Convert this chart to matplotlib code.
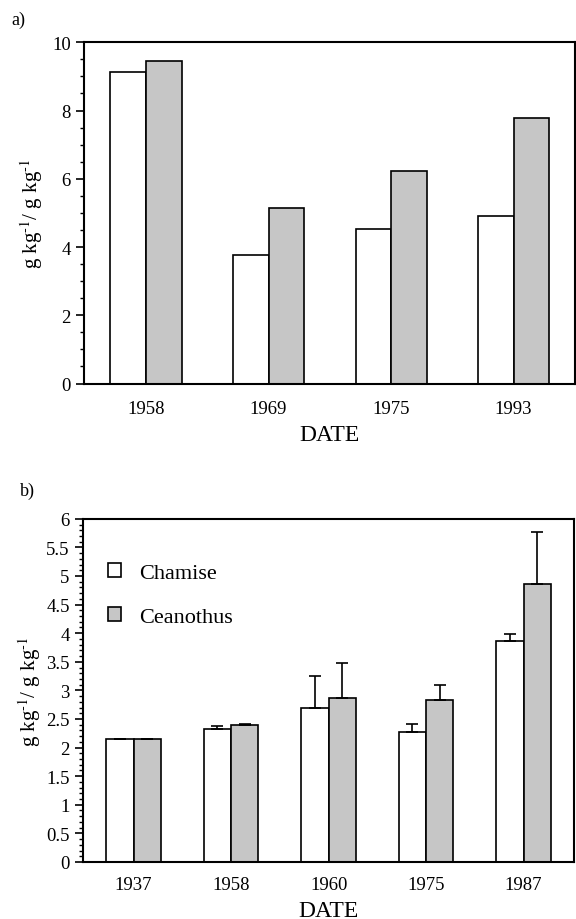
import numpy as np
import matplotlib
matplotlib.use("Agg")
import matplotlib.pyplot as plt

plt.rcParams['font.family'] = ['Liberation Serif', 'DejaVu Serif']
plt.rcParams['mathtext.fontset'] = 'stix'

# panel a
dates_a = ["1958", "1969", "1975", "1993"]
chamise_a = [9.13, 3.76, 4.53, 4.90]
ceanothus_a = [9.44, 5.15, 6.24, 7.79]

# panel b
dates_b = ["1937", "1958", "1960", "1975", "1987"]
chamise_b = [2.15, 2.32, 2.70, 2.28, 3.86]
ceanothus_b = [2.15, 2.39, 2.87, 2.84, 4.86]
chamise_err = [0.0, 0.05, 0.56, 0.14, 0.12]
ceanothus_err = [0.0, 0.02, 0.61, 0.25, 0.91]

gray = '#c6c6c6'
ylab = r'g kg$^{\text{-}1}$/ g kg$^{\text{-}1}$'

fig = plt.figure(figsize=(5.76, 9.2), dpi=100)
ax1 = fig.add_axes([0.146, 0.582, 0.852, 0.371])
ax2 = fig.add_axes([0.144, 0.062, 0.853, 0.373])


def style(ax, pad):
    for s in ax.spines.values():
        s.set_linewidth(1.5)
    ax.tick_params(axis='x', length=0, labelsize=13.5, pad=pad)
    ax.tick_params(axis='y', which='major', direction='out', length=6, width=1.2, labelsize=13.5)
    ax.tick_params(axis='y', which='minor', direction='out', length=3, width=1.0)


# ---- a)
x = np.arange(len(dates_a))
w = 0.29
ax1.bar(x - w / 2, chamise_a, w, color='white', edgecolor='black', linewidth=1.2)
ax1.bar(x + w / 2, ceanothus_a, w, color=gray, edgecolor='black', linewidth=1.2)
ax1.set_xlim(-0.505, 3.5)
ax1.set_ylim(0, 10)
ax1.set_yticks([0, 2, 4, 6, 8, 10])
ax1.set_yticks(np.arange(0, 10.01, 0.5), minor=True)
ax1.set_xticks(x)
ax1.set_xticklabels(dates_a)
ax1.set_xlabel("DATE", fontsize=17, labelpad=5)
ax1.set_ylabel(ylab, fontsize=15, labelpad=5)
style(ax1, 12)
fig.text(0.02, 0.978, "a)", fontsize=13, va='center')

# ---- b)
x = np.arange(len(dates_b))
w = 0.28
ax2.bar(x - w / 2, chamise_b, w, color='white', edgecolor='black', linewidth=1.2,
        label='Chamise')
ax2.bar(x + w / 2, ceanothus_b, w, color=gray, edgecolor='black', linewidth=1.2,
        label='Ceanothus')
ax2.errorbar(x - w / 2, chamise_b, yerr=[np.zeros(len(x)), chamise_err], fmt='none',
             ecolor='black', elinewidth=1.2, capsize=4, capthick=1.2)
ax2.errorbar(x + w / 2, ceanothus_b, yerr=[np.zeros(len(x)), ceanothus_err], fmt='none',
             ecolor='black', elinewidth=1.2, capsize=4, capthick=1.2)
ax2.set_xlim(-0.52, 4.52)
ax2.set_ylim(0, 6)
ax2.set_yticks(np.arange(0, 6.01, 0.5))
ax2.set_yticklabels(['0', '0.5', '1', '1.5', '2', '2.5', '3', '3.5', '4', '4.5', '5', '5.5', '6'])
ax2.set_yticks(np.arange(0, 6.01, 0.1), minor=True)
ax2.set_xticks(x)
ax2.set_xticklabels(dates_b)
ax2.set_xlabel("DATE", fontsize=17, labelpad=5)
ax2.set_ylabel(ylab, fontsize=15, labelpad=2)
style(ax2, 10)
ax2.legend(loc='upper left', bbox_to_anchor=(0.01, 0.93), frameon=False, fontsize=16,
           handlelength=0.6, handleheight=0.6, handletextpad=0.8, labelspacing=1.1)
fig.text(0.035, 0.466, "b)", fontsize=13, va='center')

fig.savefig("out.png", dpi=100)
